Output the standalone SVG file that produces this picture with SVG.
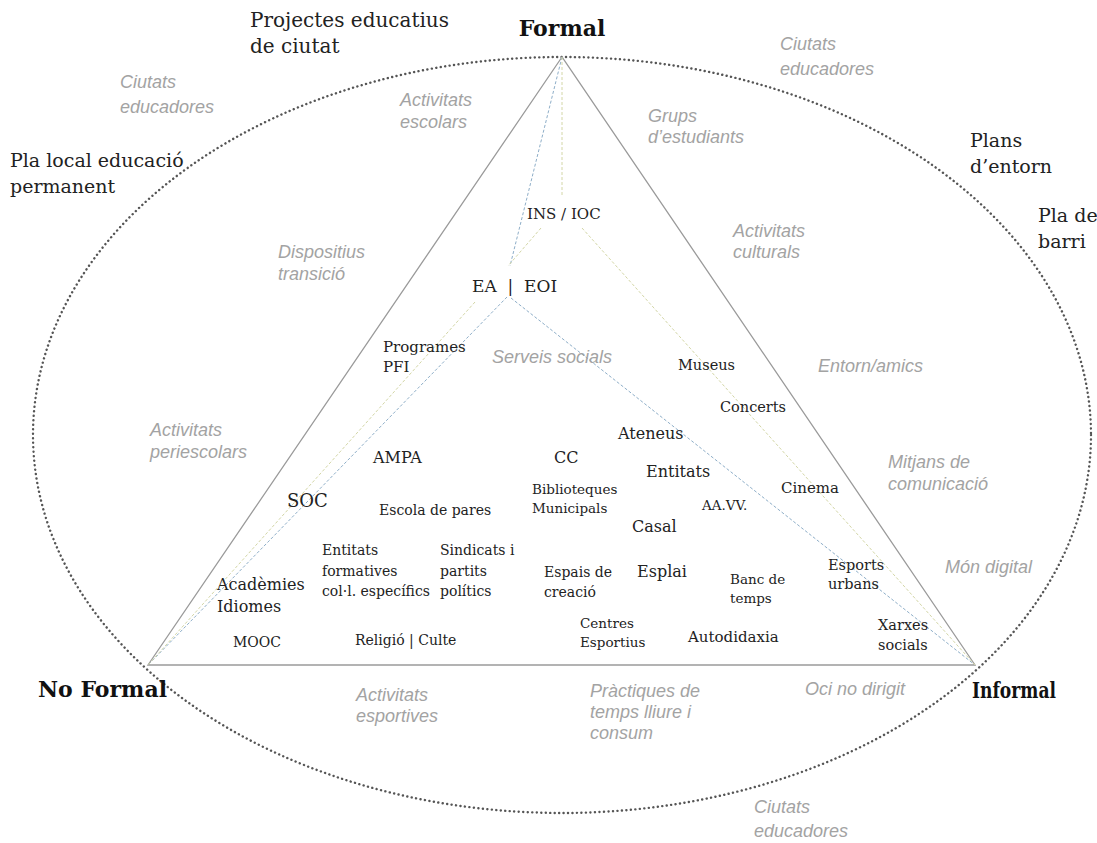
<svg xmlns="http://www.w3.org/2000/svg" width="1097" height="843" viewBox="0 0 1097 843">
<style>
.bk{font-family:"DejaVu Serif","Liberation Serif",serif;fill:#222;font-size:14px}
.out{font-size:19px}
.ttl{font-family:"DejaVu Serif","Liberation Serif",serif;font-weight:bold;fill:#111;font-size:22px}
.gr{font-family:"Liberation Sans","Arial",sans-serif;font-style:italic;fill:#a3a3a3;font-size:18px}
.tri{fill:none;stroke:#9a9a9a;stroke-width:1.3}
.ell{fill:none;stroke:#555;stroke-width:2.4;stroke-dasharray:0.1 4.4;stroke-linecap:round}
.bl{fill:none;stroke:#8eaec8;stroke-width:1;stroke-dasharray:3 2}
.yl{fill:none;stroke:#d3d6a6;stroke-width:1;stroke-dasharray:3 2}
</style>
<rect width="1097" height="843" fill="#fff"/>
<g id="frame">
<ellipse class="ell" cx="562" cy="435" rx="529" ry="378"/>
<polygon class="tri" points="562,57 148,665 975,665"/>
</g>
<g id="connectors">
<path class="bl" d="M562 57 L510 266"/>
<path class="bl" d="M507 297 L148 665"/>
<path class="bl" d="M511 298 L975 665"/>
<path class="yl" d="M562 57 L562 195"/>
<path class="yl" d="M541 228 L508 266"/>
<path class="yl" d="M582 228 L975 665"/>
<path class="yl" d="M475 302 L148 665"/>
</g>
<g id="vertices">
<g id="n-formal"><text class="ttl" x="562" y="36" text-anchor="middle">Formal</text></g>
<g id="n-noformal"><text class="ttl" x="38" y="697">No Formal</text></g>
<g id="n-informal"><text class="ttl" x="972" y="698" textLength="84" lengthAdjust="spacingAndGlyphs">Informal</text></g>
</g>
<g id="outer-labels">
<g id="n-projectes"><text class="bk out" x="250" y="27" style="font-size:20px"><tspan x="250">Projectes educatius</tspan><tspan x="250" dy="26">de ciutat</tspan></text></g>
<g id="n-plalocal"><text class="bk out" x="10" y="167"><tspan x="10">Pla local educació</tspan><tspan x="10" dy="26">permanent</tspan></text></g>
<g id="n-plans"><text class="bk out" x="970" y="147"><tspan x="970">Plans</tspan><tspan x="970" dy="26">d’entorn</tspan></text></g>
<g id="n-plabarri"><text class="bk out" x="1038" y="222"><tspan x="1038">Pla de</tspan><tspan x="1038" dy="26">barri</tspan></text></g>
</g>
<g id="gray-labels">
<g id="g-ciutats-tl"><text class="gr" x="120" y="88"><tspan x="120">Ciutats</tspan><tspan x="120" dy="25">educadores</tspan></text></g>
<g id="g-ciutats-tr"><text class="gr" x="780" y="50"><tspan x="780">Ciutats</tspan><tspan x="780" dy="25">educadores</tspan></text></g>
<g id="g-escolars"><text class="gr" x="400" y="106"><tspan x="400">Activitats</tspan><tspan x="400" dy="22">escolars</tspan></text></g>
<g id="g-grups"><text class="gr" x="648" y="122"><tspan x="648">Grups</tspan><tspan x="648" dy="21">d’estudiants</tspan></text></g>
<g id="g-dispositius"><text class="gr" x="278" y="258"><tspan x="278">Dispositius</tspan><tspan x="278" dy="22">transició</tspan></text></g>
<g id="g-culturals"><text class="gr" x="733" y="237"><tspan x="733">Activitats</tspan><tspan x="733" dy="21">culturals</tspan></text></g>
<g id="g-serveis"><text class="gr" x="492" y="363">Serveis socials</text></g>
<g id="g-entorn"><text class="gr" x="818" y="372">Entorn/amics</text></g>
<g id="g-periescolars"><text class="gr" x="150" y="436"><tspan x="150">Activitats</tspan><tspan x="150" dy="22">periescolars</tspan></text></g>
<g id="g-mitjans"><text class="gr" x="888" y="468"><tspan x="888">Mitjans de</tspan><tspan x="888" dy="22">comunicació</tspan></text></g>
<g id="g-digital"><text class="gr" x="945" y="573">Món digital</text></g>
<g id="g-esportives"><text class="gr" x="356" y="701"><tspan x="356">Activitats</tspan><tspan x="356" dy="21">esportives</tspan></text></g>
<g id="g-practiques"><text class="gr" x="590" y="697"><tspan x="590">Pràctiques de</tspan><tspan x="590" dy="21">temps lliure i</tspan><tspan x="590" dy="21">consum</tspan></text></g>
<g id="g-oci"><text class="gr" x="805" y="695">Oci no dirigit</text></g>
<g id="g-ciutats-b"><text class="gr" x="754" y="813"><tspan x="754">Ciutats</tspan><tspan x="754" dy="24">educadores</tspan></text></g>
</g>
<g id="inner-nodes">
<g id="n-ins"><text class="bk" x="527" y="219" style="font-size:15px">INS / IOC</text></g>
<g id="n-ea"><text class="bk" x="472" y="292" style="font-size:17px" xml:space="preserve">EA  |  EOI</text></g>
<g id="n-pfi"><text class="bk" x="383" y="352" style="font-size:15px"><tspan x="383">Programes</tspan><tspan x="383" dy="20">PFI</tspan></text></g>
<g id="n-ampa"><text class="bk" x="373" y="463" style="font-size:16px">AMPA</text></g>
<g id="n-soc"><text class="bk" x="287" y="507" style="font-size:18px">SOC</text></g>
<g id="n-escola"><text class="bk" x="379" y="515">Escola de pares</text></g>
<g id="n-entitatsf"><text class="bk" x="322" y="555"><tspan x="322">Entitats</tspan><tspan x="322" dy="21">formatives</tspan><tspan x="322" dy="20">col·l. específics</tspan></text></g>
<g id="n-sindicats"><text class="bk" x="440" y="555"><tspan x="440">Sindicats i</tspan><tspan x="440" dy="21">partits</tspan><tspan x="440" dy="20">polítics</tspan></text></g>
<g id="n-academies"><text class="bk" x="217" y="590" style="font-size:16px"><tspan x="217">Acadèmies</tspan><tspan x="217" dy="22">Idiomes</tspan></text></g>
<g id="n-mooc"><text class="bk" x="233" y="647">MOOC</text></g>
<g id="n-religio"><text class="bk" x="355" y="645">Religió | Culte</text></g>
<g id="n-museus"><text class="bk" x="678" y="370" style="font-size:14.5px">Museus</text></g>
<g id="n-concerts"><text class="bk" x="720" y="412" style="font-size:14.5px">Concerts</text></g>
<g id="n-ateneus"><text class="bk" x="618" y="439" style="font-size:16px">Ateneus</text></g>
<g id="n-cc"><text class="bk" x="554" y="463" style="font-size:16px">CC</text></g>
<g id="n-entitats"><text class="bk" x="646" y="477" style="font-size:16px">Entitats</text></g>
<g id="n-biblio"><text class="bk" x="532" y="494" style="font-size:13.5px"><tspan x="532">Biblioteques</tspan><tspan x="532" dy="19">Municipals</tspan></text></g>
<g id="n-aavv"><text class="bk" x="702" y="510" style="font-size:13.5px">AA.VV.</text></g>
<g id="n-cinema"><text class="bk" x="781" y="493" style="font-size:15px">Cinema</text></g>
<g id="n-casal"><text class="bk" x="632" y="532" style="font-size:16px">Casal</text></g>
<g id="n-espais"><text class="bk" x="544" y="577"><tspan x="544">Espais de</tspan><tspan x="544" dy="20">creació</tspan></text></g>
<g id="n-esplai"><text class="bk" x="637" y="577" style="font-size:16px">Esplai</text></g>
<g id="n-banc"><text class="bk" x="730" y="584" style="font-size:13.5px"><tspan x="730">Banc de</tspan><tspan x="730" dy="19">temps</tspan></text></g>
<g id="n-esports"><text class="bk" x="828" y="570" style="font-size:14.5px"><tspan x="828">Esports</tspan><tspan x="828" dy="19">urbans</tspan></text></g>
<g id="n-centres"><text class="bk" x="580" y="628" style="font-size:13.5px"><tspan x="580">Centres</tspan><tspan x="580" dy="19">Esportius</tspan></text></g>
<g id="n-autodidaxia"><text class="bk" x="688" y="642" style="font-size:15px">Autodidaxia</text></g>
<g id="n-xarxes"><text class="bk" x="878" y="630" style="font-size:14.5px"><tspan x="878">Xarxes</tspan><tspan x="878" dy="20">socials</tspan></text></g>
</g>
</svg>
